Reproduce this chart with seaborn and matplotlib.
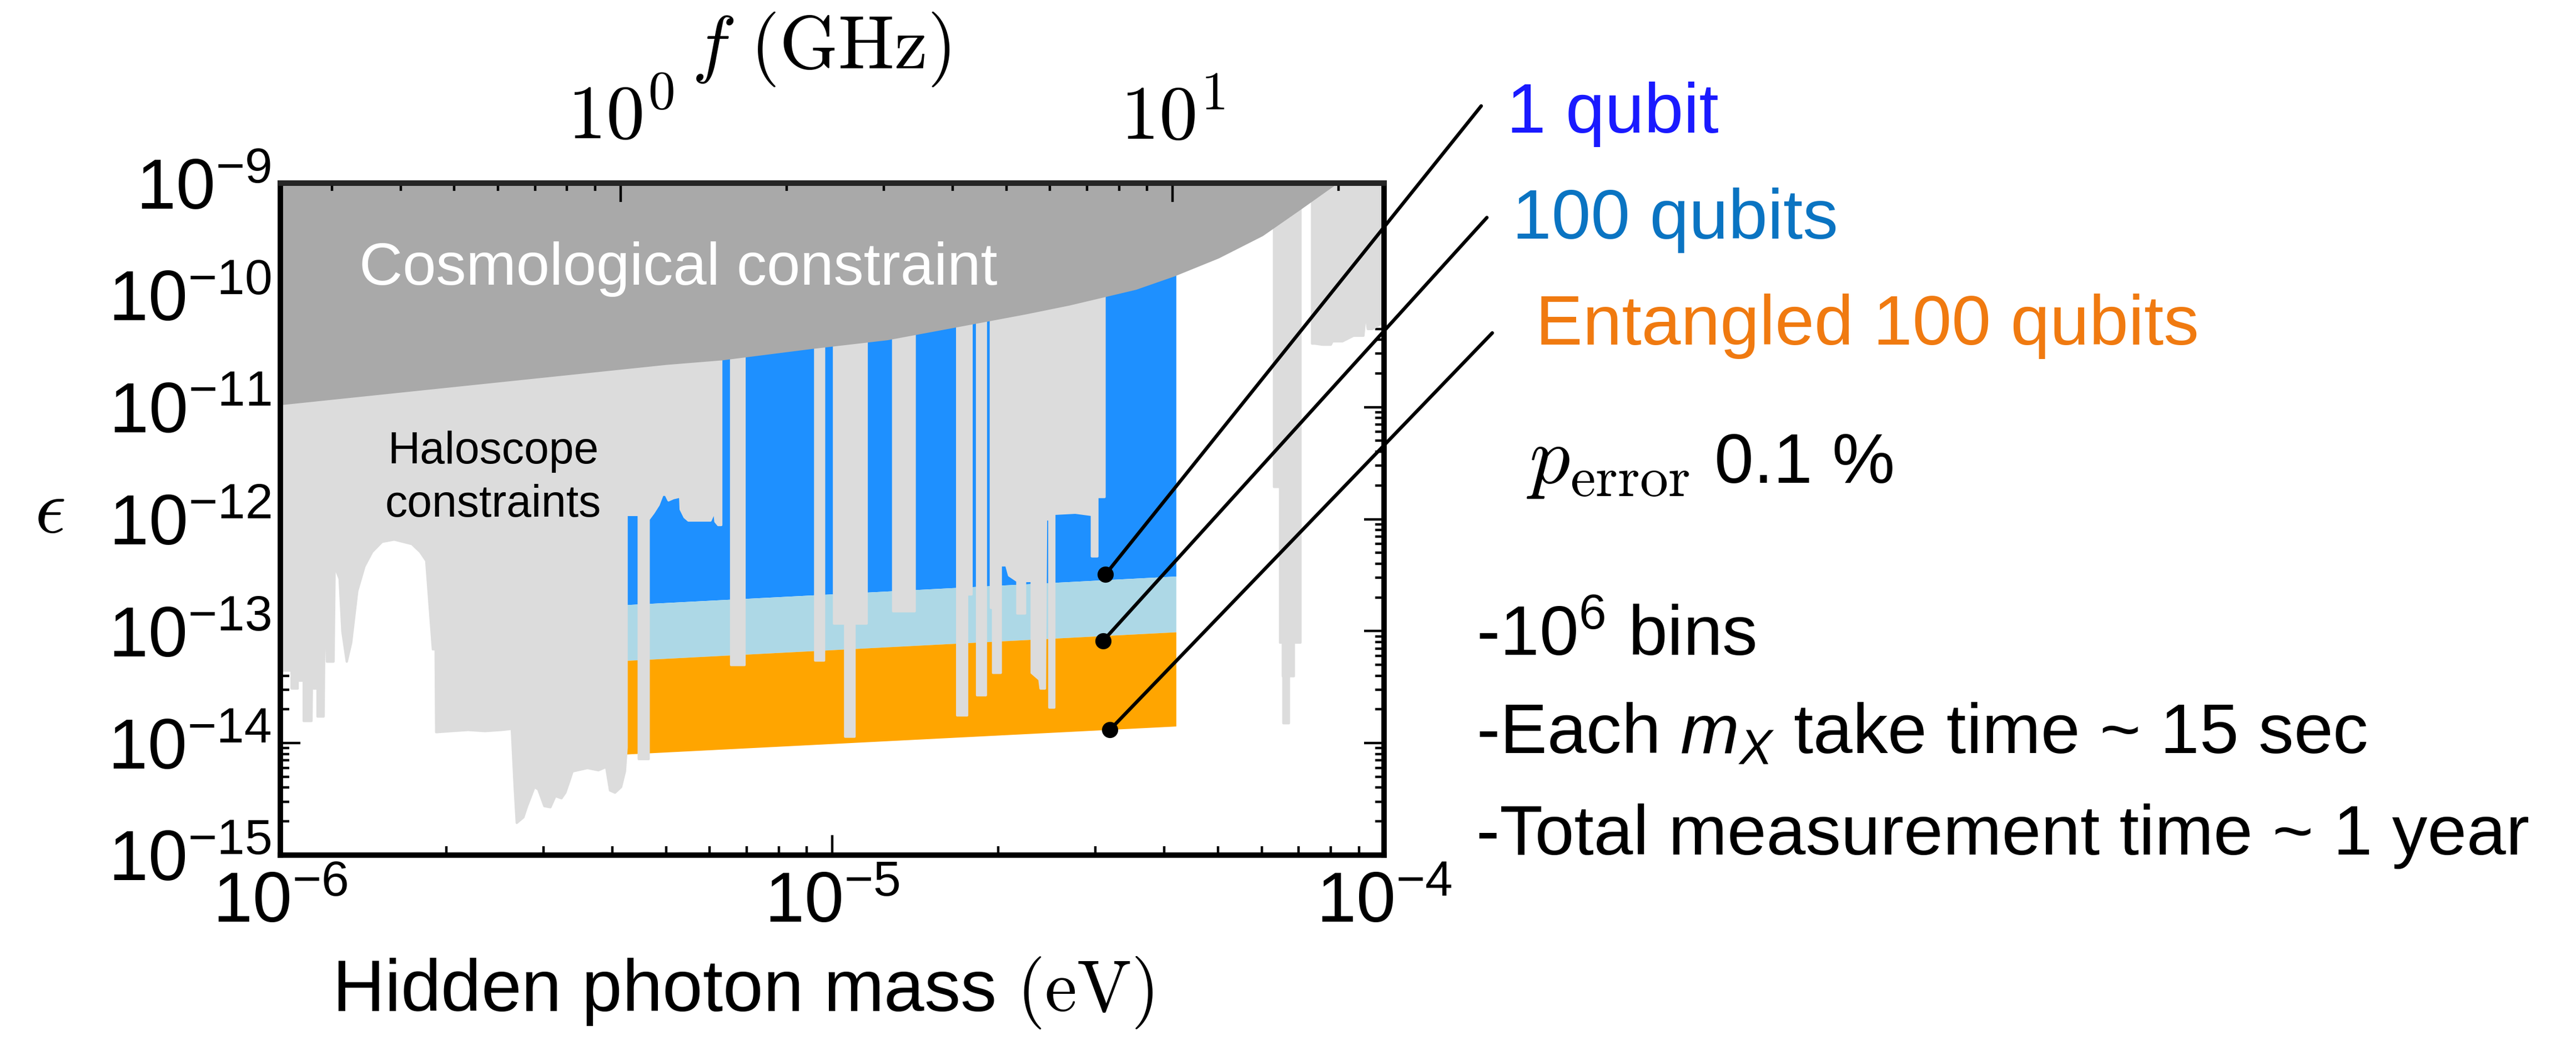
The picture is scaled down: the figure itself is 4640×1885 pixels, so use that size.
import numpy as np
import pandas as pd
import matplotlib
matplotlib.use("Agg")
import matplotlib.pyplot as plt
import seaborn as sns
from matplotlib.ticker import FixedLocator, FixedFormatter, LogLocator, NullFormatter

# all values are log10: hidden photon mass in eV, kinetic mixing epsilon

# cosmological constraint, lower edge
cosmo_logm = [-6.00, -5.30, -5.20, -5.04, -4.90, -4.78, -4.65, -4.57, -4.45, -4.38, -4.30, -4.22, -4.15, -4.09, -4.00]
cosmo_logeps = [-10.98, -10.62, -10.58, -10.48, -10.40, -10.29, -10.17, -10.09, -9.95, -9.83, -9.67, -9.47, -9.23, -9.02, -8.70]

# haloscope constraints, lower edge (-9 = nothing excluded)
halo_logm = [
    -6.000, -5.996, -5.996, -5.980, -5.980, -5.969, -5.969, -5.958, -5.958, -5.944,
    -5.942, -5.940, -5.933, -5.933, -5.922, -5.920, -5.916, -5.904, -5.902, -5.893,
    -5.888, -5.880, -5.872, -5.861, -5.848, -5.834, -5.816, -5.794, -5.762, -5.747,
    -5.736, -5.724, -5.719, -5.718, -5.690, -5.660, -5.630, -5.600, -5.581, -5.576,
    -5.572, -5.560, -5.554, -5.547, -5.540, -5.533, -5.522, -5.511, -5.502, -5.491,
    -5.484, -5.477, -5.471, -5.444, -5.424, -5.410, -5.403, -5.394, -5.383, -5.376,
    -5.373, -5.373, -5.351, -5.351, -5.333, -5.333, -5.324, -5.315, -5.308, -5.302,
    -5.297, -5.288, -5.279, -5.277, -5.275, -5.268, -5.261, -5.221, -5.214, -5.212,
    -5.207, -5.2015,
    -5.2015, -5.1836, -5.1836, -5.1593, -5.1593,
    -5.0313, -5.0313, -5.0152, -5.0152,
    -4.9972, -4.9972, -4.977, -4.977, -4.960, -4.960, -4.938, -4.938,
    -4.890, -4.890, -4.851, -4.851,
    -4.774, -4.774, -4.756, -4.756, -4.748, -4.748,
    -4.738, -4.738, -4.722, -4.722,
    -4.713, -4.713, -4.709, -4.709, -4.695, -4.695, -4.685, -4.680, -4.665, -4.665,
    -4.651, -4.651, -4.642, -4.642, -4.639, -4.639, -4.625, -4.623, -4.615, -4.613,
    -4.607, -4.607, -4.598, -4.598, -4.560, -4.530, -4.530, -4.520, -4.520, -4.507,
    -4.507,
    -4.200, -4.200, -4.189, -4.189, -4.184, -4.184, -4.183, -4.183, -4.173, -4.173,
    -4.164, -4.164, -4.152, -4.152,
    -4.131, -4.131, -4.126, -4.112, -4.097, -4.094, -4.076, -4.056, -4.038, -4.034,
    -4.030, -4.022, -4.005, -4.000,
]
halo_logeps = [
    -13.24, -13.24, -13.35, -13.35, -13.51, -13.51, -13.44, -13.44, -13.80, -13.80,
    -12.97, -13.51, -13.51, -13.76, -13.76, -12.64, -13.27, -13.27, -12.42, -12.53,
    -13.00, -13.27, -13.10, -12.64, -12.42, -12.29, -12.20, -12.18, -12.22, -12.29,
    -12.37, -13.16, -13.16, -13.90, -13.89, -13.88, -13.89, -13.88, -13.87, -14.37,
    -14.71, -14.66, -14.57, -14.48, -14.39, -14.41, -14.56, -14.57, -14.47, -14.49,
    -14.44, -14.34, -14.25, -14.22, -14.24, -14.21, -14.42, -14.44, -14.39, -14.25,
    -14.04, -11.96, -11.96, -14.14, -14.14, -12.00, -11.94, -11.87, -11.78, -11.78,
    -11.83, -11.81, -11.80, -11.67, -11.91, -11.98, -12.01, -12.01, -11.93, -12.02,
    -12.05, -12.05,
    -9.0, -9.0, -13.30, -13.30, -9.0,
    -9.0, -13.26, -13.26, -9.0,
    -9.0, -12.93, -12.93, -13.94, -13.94, -12.93, -12.93, -9.0,
    -9.0, -12.82, -12.82, -9.0,
    -9.0, -13.75, -13.75, -12.67, -12.67, -9.0,
    -9.0, -13.57, -13.57, -9.0,
    -9.0, -12.79, -12.79, -13.37, -13.37, -12.41, -12.41, -12.50, -12.55, -12.84,
    -12.84, -12.55, -12.55, -12.00, -12.00, -13.37, -13.43, -13.51, -13.51, -12.00,
    -12.00, -13.68, -13.68, -11.95, -11.94, -11.96, -12.33, -12.33, -11.80, -11.80,
    -9.0,
    -9.0, -11.71, -11.71, -13.10, -13.10, -13.40, -13.40, -13.82, -13.82, -13.40,
    -13.40, -13.10, -13.10, -9.0,
    -9.0, -10.43, -10.43, -10.44, -10.44, -10.41, -10.41, -10.36, -10.36, -10.16,
    -10.30, -10.30, -10.25, -10.25,
]

# qubit sensitivity, 1 GHz to 10 GHz
band_logm = [-5.373, -4.377]
one_qubit = [-12.765, -12.510]
hundred_qubits = [-13.263, -13.008]
entangled = [-14.099, -13.849]

# callout dots
dot_logm = [-4.505, -4.509, -4.497]
dot_logeps = [-12.495, -13.086, -13.882]

labels = ["1 qubit", "100 qubits", "Entangled 100 qubits"]
label_colors = ["#1a1aff", "#0a74c2", "#f07a10"]
notes = [r"-10$^6$ bins", r"-Each $m_X$ take time ~ 15 sec", "-Total measurement time ~ 1 year"]

f_ticks = [1, 10]
f_ticklabels = [r"$10^{0}$", r"$10^{1}$"]

GHZ_PER_EV = 2.418e5


def p10(v):
    return np.power(10.0, np.asarray(v, dtype=float))


sns.set_theme(style="ticks")
plt.rcParams["font.family"] = ["Liberation Sans", "DejaVu Sans"]
plt.rcParams["mathtext.fontset"] = "custom"
plt.rcParams["mathtext.rm"] = "Liberation Sans"
plt.rcParams["mathtext.it"] = "Liberation Sans:italic"
plt.rcParams["mathtext.bf"] = "Liberation Sans:bold"
plt.rcParams["text.color"] = "black"
plt.rcParams["axes.labelcolor"] = "black"
plt.rcParams["xtick.color"] = "black"
plt.rcParams["ytick.color"] = "black"

fig = plt.figure(figsize=(46.4, 18.85), dpi=100)
ax = fig.add_axes([0.1088, 0.1825, 0.4285, 0.6424])

# qubit bands
band_m = p10(band_logm)
ax.fill_between(band_m, p10(one_qubit), 1e-9, color="#1e90ff", lw=0, zorder=1)
ax.fill_between(band_m, p10(hundred_qubits), p10(one_qubit), color="#add8e6", lw=0, zorder=1)
ax.fill_between(band_m, p10(entangled), p10(hundred_qubits), color="#ffa500", lw=0, zorder=1)

# haloscope + cosmology
ax.fill_between(p10(halo_logm), p10(halo_logeps), 1e-9, facecolor="#dcdcdc",
                edgecolor="#dcdcdc", lw=3, joinstyle="round", zorder=1.5)
ax.fill_between(p10(cosmo_logm), p10(cosmo_logeps), 1e-8, color="#a9a9a9", lw=0, zorder=2)

ax.text(p10(-5.857), p10(-9.907), "Cosmological constraint", color="white",
        fontsize=78, ha="left", va="baseline", zorder=3)
ax.text(p10(-5.614), p10(-11.501), "Haloscope", fontsize=58, ha="center", va="baseline", zorder=3)
ax.text(p10(-5.614), p10(-11.977), "constraints", fontsize=58, ha="center", va="baseline", zorder=3)

# callouts
dots = pd.DataFrame({"m": p10(dot_logm), "eps": p10(dot_logeps)})
line_ends = [(0.5750, 0.8987), (0.5772, 0.7920), (0.5793, 0.6817)]
for (_, row), end in zip(dots.iterrows(), line_ends):
    ax.annotate("", xy=(row["m"], row["eps"]), xycoords="data", xytext=end,
                textcoords="figure fraction", annotation_clip=False, zorder=4,
                arrowprops=dict(arrowstyle="-", color="black", lw=4.5, shrinkA=0, shrinkB=0))
sns.scatterplot(data=dots, x="m", y="eps", color="black", s=441, linewidth=0,
                ax=ax, zorder=5, legend=False, clip_on=False)

ax.set_xscale("log")
ax.set_yscale("log")
ax.set_xlim(1e-6, 1e-4)
ax.set_ylim(1e-15, 1e-9)
for axis in (ax.xaxis, ax.yaxis):
    axis.set_major_locator(LogLocator(base=10, numticks=20))
    axis.set_minor_locator(LogLocator(base=10, subs=np.arange(2, 10), numticks=20))
    axis.set_minor_formatter(NullFormatter())
ax.tick_params(which="both", direction="in", top=False, right=True, left=True, bottom=True,
               width=3.2, labelsize=92, colors="black")
ax.tick_params(which="major", length=26)
ax.tick_params(which="minor", length=11.5)
ax.tick_params(axis="x", pad=20)
ax.tick_params(axis="y", pad=12)
for s in ax.spines.values():
    s.set_linewidth(7)
    s.set_color("black")

ax.set_xlabel(r"Hidden photon mass $(\mathrm{eV})$", fontsize=94, math_fontfamily="cm",
              va="baseline")
ax.xaxis.set_label_coords(0.419, -0.232)
ax.set_ylabel(r"$\epsilon$", fontsize=100, math_fontfamily="cm", rotation=0, va="center")
ax.yaxis.set_label_coords(-0.209, 0.51)

# frequency axis on top
secax = ax.secondary_xaxis("top", functions=(lambda x: x * GHZ_PER_EV, lambda f: f / GHZ_PER_EV))
secax.xaxis.set_major_locator(FixedLocator(f_ticks))
secax.xaxis.set_major_formatter(FixedFormatter(f_ticklabels))
secax.xaxis.set_minor_locator(LogLocator(base=10, subs=np.arange(2, 10), numticks=20))
secax.xaxis.set_minor_formatter(NullFormatter())
secax.tick_params(which="both", direction="in", width=3.2, labelsize=100, pad=36, colors="black")
secax.tick_params(which="major", length=24.5)
secax.tick_params(which="minor", length=10)
for t in secax.get_xticklabels():
    t.set_math_fontfamily("cm")
secax.spines["top"].set_linewidth(7)
secax.set_zorder(3)
ax.text(0.49, 1.171, r"$f\ (\mathrm{GHz})$", transform=ax.transAxes, ha="center",
        va="baseline", fontsize=97, math_fontfamily="cm")

# right-hand notes
label_pos = [(0.5849, 0.8732), (0.5870, 0.7719), (0.5962, 0.6703)]
for txt, col, (x, y) in zip(labels, label_colors, label_pos):
    fig.text(x, y, txt, color=col, fontsize=91.5, va="baseline")

fig.text(0.5926, 0.5385, r"$p_{\mathrm{error}}$", fontsize=105, math_fontfamily="cm", va="baseline")
fig.text(0.6655, 0.5385, "0.1 %", fontsize=91.5, va="baseline")

for txt, y in zip(notes, [0.3735, 0.2796, 0.1830]):
    fig.text(0.5730, y, txt, fontsize=91.5, va="baseline")

fig.savefig("out.png", dpi=100)
